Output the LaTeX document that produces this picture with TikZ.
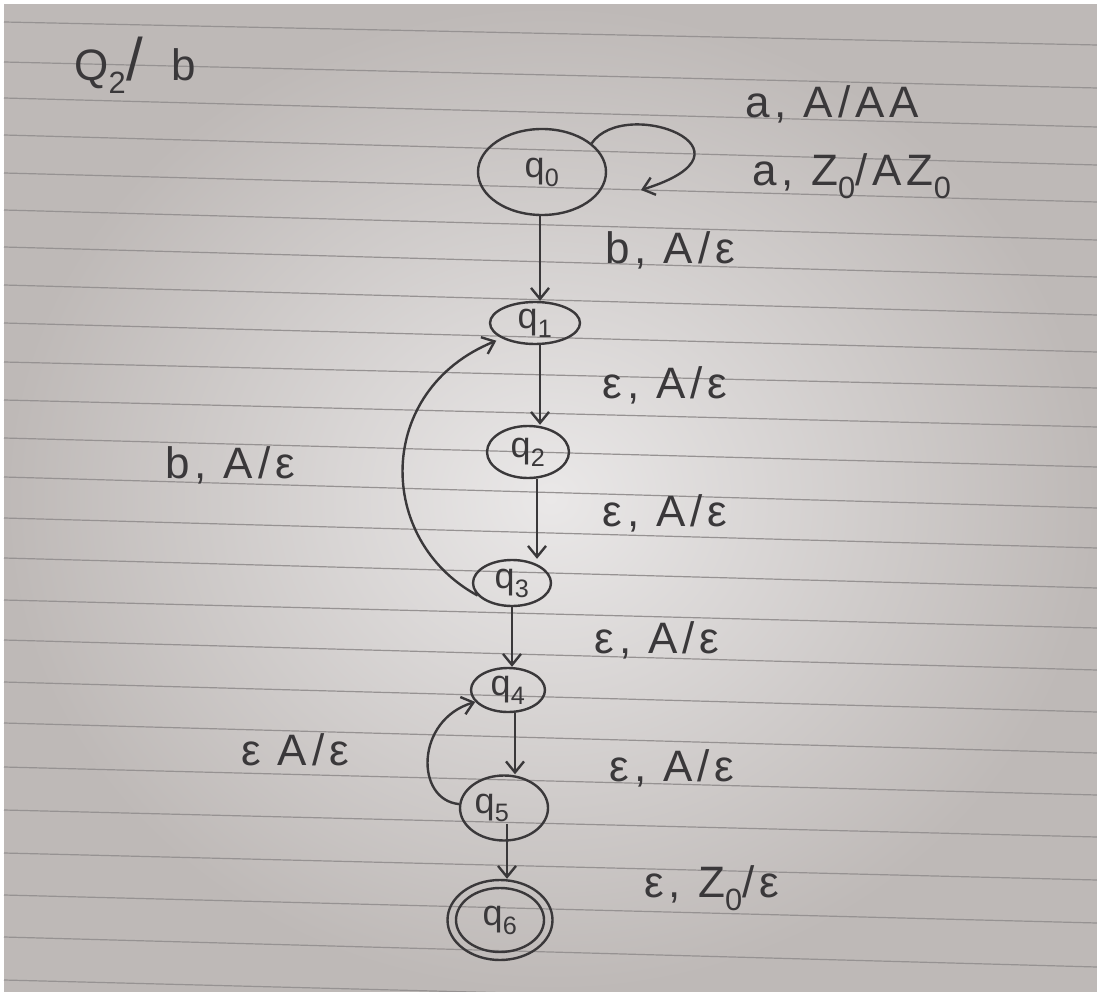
\documentclass[tikz,border=0pt]{standalone}
\usepackage{fontspec}
\setmainfont{Liberation Sans}
\usetikzlibrary{shapes.geometric,arrows.meta}
\definecolor{ink}{RGB}{58,56,58}
\definecolor{paper}{RGB}{190,185,183}
\definecolor{paperc}{RGB}{234,232,232}
\definecolor{rulec}{RGB}{150,146,146}
\begin{document}
\begin{tikzpicture}[x=1pt,y=-1pt,
  state/.style={ellipse,draw=ink,line width=2.4pt,inner sep=0pt,text=ink,
    font=\fontsize{36}{36}\selectfont},
  tr/.style={draw=ink,line width=2.4pt,
    -{Straight Barb[length=11pt,width=18pt,line width=2.4pt]}},
  lbl/.style={text=ink,inner sep=0pt,
    font=\fontsize{44}{44}\selectfont\addfontfeatures{LetterSpace=11}},
  paperrule/.style={draw=rulec,line width=1.2pt}]
\path[use as bounding box] (0,0) rectangle (1097,992);
\fill[white] (0,0) rectangle (1097,992);
\shade[inner color=paperc,outer color=paper] (4,5) rectangle (1097,992);
\foreach \l/\r in {22/45,62/88,98/127,135/165,173/202,210/240,247/277,285/315,
  323/352,362/388,400/427,438/467,477/508,518/548,558/588,600/628,640/670,
  682/712,723/753,767/795,810/837,853/880,895/923,937/967,980/1008}
  \draw[paperrule] (4,\l) -- (1097,\r);

% title
\node[lbl] (title) at (135,65) {Q\textsubscript{2}{\fontsize{60}{60}\selectfont/}\hspace{28pt}b};

% states
\node[state,minimum width=128pt,minimum height=86pt] (q0) at (542,172) {q\textsubscript{0}};
\node[state,minimum width=90pt,minimum height=42pt] (q1) at (535,323) {q\textsubscript{1}};
\node[state,minimum width=82pt,minimum height=52pt] (q2) at (528,452) {q\textsubscript{2}};
\node[state,minimum width=78pt,minimum height=46pt] (q3) at (512,583) {q\textsubscript{3}};
\node[state,minimum width=74pt,minimum height=44pt] (q4) at (508,690) {q\textsubscript{4}};
\node[state,minimum width=88pt,minimum height=65pt] (q5) at (504,808) {q\textsubscript{5}\kern 24pt};
\node[state,minimum width=105pt,minimum height=80pt] (q6) at (500,920) {q\textsubscript{6}};
\draw[ink,line width=2.4pt] (q6.center) ellipse (44pt and 32pt);

% transitions
\coordinate (lt) at (641,190);
\draw[tr] (q0.30) .. controls (625,95) and (770,150) .. (lt);
\draw[tr] ([xshift=-2pt]q0.south) -- ([xshift=-2pt]q0.south |- q1.north);
\draw[tr] ([xshift=5pt]q1.south) -- ([xshift=5pt]q1.south |- q2.north);
\draw[tr] ([xshift=9pt]q2.south) -- ([xshift=9pt]q2.south |- q3.north);
\draw[tr] (q3.south) -- (q3.south |- q4.north);
\draw[tr] ([xshift=7pt]q4.south) -- ([xshift=7pt]q4.south |- q5.north);
\draw[tr] ([xshift=3pt,yshift=-16pt]q5.center) -- ([xshift=3pt]q5.center |- q6.north);
\draw[tr,shorten >=6pt] (q3.200) .. controls (375,540) and (375,390) .. (q1.205);
\draw[tr] (q5.175) .. controls (415,800) and (415,720) .. (q4.200);

% labels
\node[lbl] (l0a) at (832,104) {a, A/AA};
\node[lbl] (l0b) at (852,176) {a, Z\textsubscript{0}/AZ\textsubscript{0}};
\node[lbl] (l01) at (670,250) {b, A/ε};
\node[lbl] (l12) at (665,385) {ε, A/ε};
\node[lbl] (l23) at (665,513) {ε, A/ε};
\node[lbl] (l34) at (657,640) {ε, A/ε};
\node[lbl] (l45) at (672,768) {ε, A/ε};
\node[lbl] (l56) at (712,888) {ε, Z\textsubscript{0}/ε};
\node[lbl] (l31) at (230,465) {b, A/ε};
\node[lbl] (l54) at (295,750) {ε A/ε};
\end{tikzpicture}
\end{document}
